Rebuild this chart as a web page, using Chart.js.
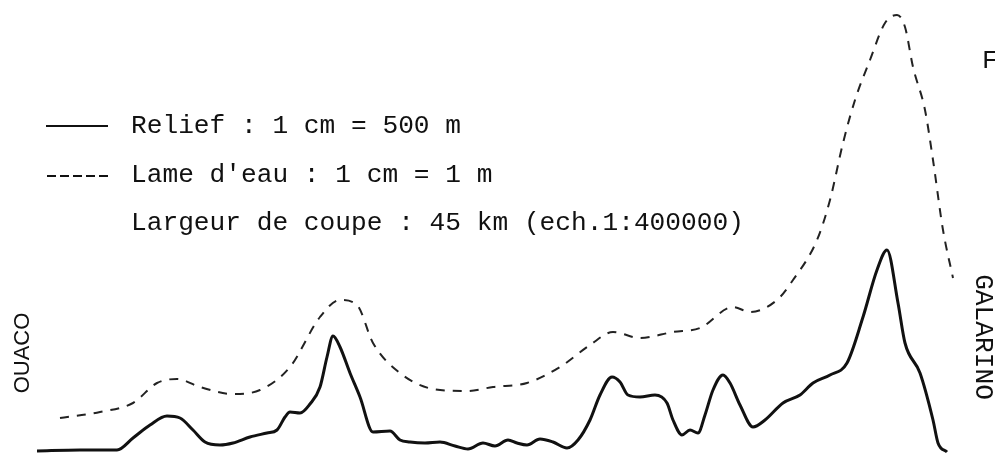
<!DOCTYPE html>
<html>
<head>
<meta charset="utf-8">
<script src="https://cdn.jsdelivr.net/npm/chart.js@4/dist/chart.umd.min.js"></script>
<style>
  body { margin: 0; background: #fff; }
  #wrap { width: 995px; height: 454px; }
</style>
</head>
<body>
<div id="wrap"><canvas id="coupeChart" width="995" height="454"></canvas></div>
<script>
// distance along the section (arbitrary units) and heights above baseline
var reliefX = [37, 80, 117, 133, 150, 167, 180, 193, 205, 220, 233, 250, 267, 277, 285, 290, 300, 310, 320, 327, 333, 340, 350, 360, 373, 390, 400, 410, 425, 440, 455, 468, 483, 495, 508, 517, 527, 540, 553, 567, 578, 590, 600, 612, 620, 628, 640, 655, 667, 673, 682, 690, 698, 705, 713, 723, 730, 740, 753, 765, 783, 800, 813, 830, 847, 863, 877, 887, 898, 905, 920, 933, 938, 947];
var reliefY = [1, 2, 2, 14, 27, 36, 34, 22, 10, 7, 9, 15, 19, 22, 35, 40, 39, 48, 65, 95, 116, 105, 79, 55, 20, 21, 12, 10, 9, 10, 6, 3, 9, 6, 12, 9, 7, 13, 10, 4, 12, 32, 57, 75, 70, 57, 55, 57, 49, 32, 17, 22, 19, 37, 62, 77, 69, 47, 25, 32, 49, 57, 69, 77, 89, 135, 182, 202, 149, 109, 79, 32, 9, 0];

var eauX = [60, 100, 133, 157, 177, 200, 233, 260, 290, 320, 340, 357, 373, 400, 433, 467, 493, 527, 560, 590, 613, 640, 673, 700, 733, 750, 777, 793, 817, 830, 843, 855, 870, 885, 897, 905, 913, 925, 933, 943, 953];
var eauY = [34, 40, 49, 69, 73, 65, 58, 62, 85, 135, 152, 147, 109, 79, 63, 61, 65, 69, 85, 107, 120, 114, 120, 124, 145, 140, 152, 172, 212, 252, 309, 352, 392, 429, 437, 425, 385, 342, 292, 222, 174];

var legendLabels = ['Relief : 1 cm = 500 m', "Lame d'eau : 1 cm = 1 m", 'Largeur de coupe : 45 km (ech.1:400000)'];
var leftName = 'OUACO';
var rightName = 'GALARINO';
var cornerMark = 'F';

function toPoints(xs, ys) {
  return xs.map(function (x, i) { return { x: x, y: ys[i] }; });
}

var annotations = {
  id: 'annotations',
  afterDraw: function (chart) {
    var ctx = chart.ctx;
    ctx.save();
    ctx.strokeStyle = '#111';
    ctx.fillStyle = '#111';
    // legend samples
    ctx.lineWidth = 2;
    ctx.beginPath();
    ctx.moveTo(46, 126); ctx.lineTo(108, 126);
    ctx.stroke();
    ctx.setLineDash([9, 4]);
    ctx.beginPath();
    ctx.moveTo(47, 176); ctx.lineTo(108, 176);
    ctx.stroke();
    ctx.setLineDash([]);
    // legend texts
    ctx.font = '26.2px "Liberation Mono", "DejaVu Sans Mono", monospace';
    ctx.textBaseline = 'alphabetic';
    ctx.textAlign = 'left';
    ctx.fillText(legendLabels[0], 131, 133);
    ctx.fillText(legendLabels[1], 131, 182);
    ctx.fillText(legendLabels[2], 131, 230);
    ctx.fillText(cornerMark, 982, 68);
    // end names
    ctx.save();
    ctx.translate(23, 353);
    ctx.rotate(-Math.PI / 2);
    ctx.textAlign = 'center';
    ctx.textBaseline = 'middle';
    ctx.font = '22px "Liberation Sans", Arial, sans-serif';
    ctx.fillText(leftName, 0, 0);
    ctx.restore();
    ctx.save();
    ctx.translate(983, 337);
    ctx.rotate(Math.PI / 2);
    ctx.textAlign = 'center';
    ctx.textBaseline = 'middle';
    ctx.font = '26.2px "Liberation Mono", "DejaVu Sans Mono", monospace';
    ctx.fillText(rightName, 0, 0);
    ctx.restore();
    ctx.restore();
  }
};

new Chart(document.getElementById('coupeChart'), {
  type: 'line',
  data: {
    datasets: [{
      label: 'Relief',
      data: toPoints(reliefX, reliefY),
      borderColor: '#111',
      borderWidth: 3,
      pointRadius: 0,
      cubicInterpolationMode: 'monotone',
      fill: false
    }, {
      label: "Lame d'eau",
      data: toPoints(eauX, eauY),
      borderColor: '#222',
      borderWidth: 2,
      borderDash: [9, 8],
      pointRadius: 0,
      cubicInterpolationMode: 'monotone',
      fill: false
    }]
  },
  options: {
    responsive: false,
    animation: false,
    layout: { padding: 0 },
    plugins: { legend: { display: false }, tooltip: { enabled: false } },
    scales: {
      x: { type: 'linear', min: 0, max: 995, display: false },
      y: { min: -2, max: 452, display: false }
    }
  },
  plugins: [annotations]
});
</script>
</body>
</html>
